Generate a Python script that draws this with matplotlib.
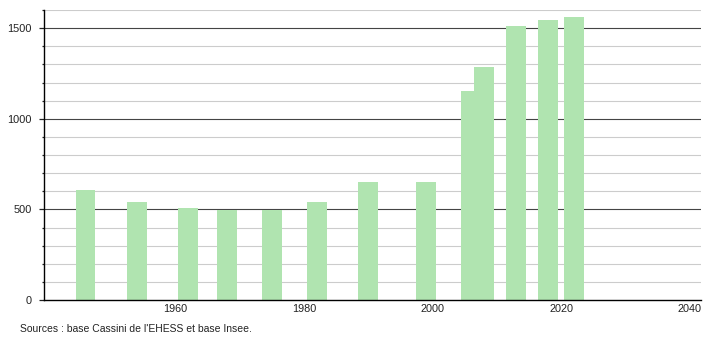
import matplotlib
matplotlib.use('Agg')
import matplotlib.pyplot as plt
from matplotlib.ticker import MultipleLocator

plt.rcParams['font.family'] = ['Liberation Sans', 'DejaVu Sans']

years = [1946, 1954, 1962, 1968, 1975, 1982, 1990, 1999, 2006, 2008, 2013, 2018, 2022]
population = [609, 543, 509, 498, 497, 543, 653, 653, 1152, 1286, 1510, 1545, 1561]
xticks = [1960, 1980, 2000, 2020, 2040]
yticks = [0, 500, 1000, 1500]
source = "Sources : base Cassini de l'EHESS et base Insee."

fig = plt.figure(figsize=(7.1, 3.4), dpi=100)
ax = fig.add_axes([0.062, 0.1176, 0.925, 0.853])

# horizontal grid: light every 100, dark every 500
for v in range(100, 1700, 100):
    if v % 500 == 0:
        ax.axhline(v, color='#444444', lw=0.8, zorder=1)
    else:
        ax.axhline(v, color='#cccccc', lw=0.8, zorder=1)

ax.bar(years, population, width=3.05, color='#b0e4b0', zorder=2)

ax.set_xlim(1939.55, 2041.75)
ax.set_ylim(0, 1600)
ax.set_xticks(xticks)
ax.set_yticks(yticks)
ax.yaxis.set_minor_locator(MultipleLocator(100))
ax.tick_params(axis='x', length=0, pad=3, labelsize=7.8, colors='#222222')
ax.tick_params(axis='y', which='major', length=3.6, width=0.9, pad=5, labelsize=7.9, colors='#222222')
ax.tick_params(axis='y', which='minor', length=1.6, width=0.9, colors='#222222')

for s in ['top', 'right']:
    ax.spines[s].set_visible(False)
for s in ['left', 'bottom']:
    ax.spines[s].set_color('black')
    ax.spines[s].set_linewidth(1.0)
    ax.spines[s].set_zorder(3)

fig.text(0.028, 0.032, source, fontsize=7.45, color='#222222', va='center', ha='left')

fig.savefig('out.png', dpi=100)
